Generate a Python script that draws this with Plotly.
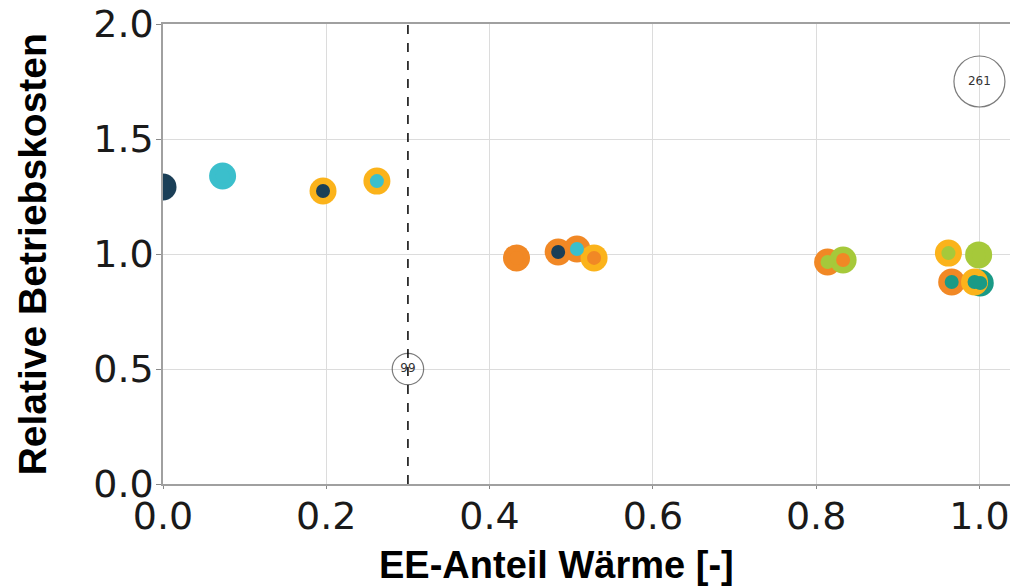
import plotly.graph_objects as go

# Data
ee_share = [0.0, 0.073, 0.196, 0.262, 0.433, 0.484, 0.507, 0.528,
            0.814, 0.833, 0.962, 0.999, 0.966, 1.001, 0.994]
rel_cost = [1.291, 1.339, 1.274, 1.317, 0.983, 1.009, 1.022, 0.983,
            0.965, 0.974, 1.004, 0.996, 0.878, 0.874, 0.878]

NAVY = "#1b3f57"
CYAN = "#3bbfcc"
ORANGE = "#f18825"
YELLOW = "#fbb31b"
LIME = "#a6c93a"
TEAL = "#1a9a86"

outer_colors = [NAVY, CYAN, YELLOW, YELLOW, ORANGE, ORANGE, ORANGE, YELLOW,
                ORANGE, LIME, YELLOW, LIME, ORANGE, TEAL, YELLOW]
inner_colors = [NAVY, CYAN, NAVY, CYAN, ORANGE, NAVY, CYAN, ORANGE,
                LIME, ORANGE, LIME, LIME, TEAL, TEAL, TEAL]

size_x = [1.0, 0.3]
size_y = [1.75, 0.5]
size_values = [261, 99]
size_labels = ["261", "99"]

threshold_x = 0.3

x_ticks = [0.0, 0.2, 0.4, 0.6, 0.8, 1.0]
y_ticks = [0.0, 0.5, 1.0, 1.5, 2.0]

fig = go.Figure()

# dashed threshold line
fig.add_shape(type="line", xref="x", yref="y", x0=threshold_x, x1=threshold_x,
              y0=0, y1=2, line=dict(color="black", width=1.5, dash="dash"),
              layer="above")

fig.add_trace(go.Scatter(
    x=ee_share, y=rel_cost, mode="markers",
    marker=dict(size=27, color=outer_colors, line=dict(width=0)),
    hoverinfo="skip", showlegend=False))
fig.add_trace(go.Scatter(
    x=ee_share, y=rel_cost, mode="markers",
    marker=dict(size=14, color=inner_colors, line=dict(width=0)),
    hoverinfo="skip", showlegend=False))

# size reference circles (area proportional to value)
ref_diam = 51
diams = [ref_diam * (v / size_values[0]) ** 0.5 for v in size_values]
fig.add_trace(go.Scatter(
    x=size_x, y=size_y, mode="markers+text", text=size_labels,
    textposition="middle center",
    textfont=dict(family="DejaVu Sans", size=12, color="#333333"),
    marker=dict(size=diams, color="rgba(0,0,0,0)",
                line=dict(color="#444444", width=1.2)),
    hoverinfo="skip", showlegend=False, cliponaxis=False))

tick_font = dict(family="DejaVu Sans", size=38, color="#1a1a1a")

# page body adds an 8px offset, so the figure is sized/margined to compensate
fig.update_layout(
    width=1010, height=579,
    margin=dict(l=155, r=1, t=16, b=103),
    paper_bgcolor="white", plot_bgcolor="white",
    xaxis=dict(range=[0, 1.046], tickvals=x_ticks, tickformat=".1f",
               showgrid=True, gridcolor="#dcdcdc", gridwidth=1,
               showline=True, mirror=True, linecolor="#a0a0a0", linewidth=1.5,
               ticks="outside", ticklen=3, tickcolor="#888888",
               ticklabelstandoff=-5, ticklabeloverflow="allow",
               tickfont=tick_font, zeroline=False, automargin=False),
    yaxis=dict(range=[0, 2.0], tickvals=y_ticks, tickformat=".1f",
               showgrid=True, gridcolor="#dcdcdc", gridwidth=1,
               showline=True, mirror=True, linecolor="#a0a0a0", linewidth=1.5,
               ticks="outside", ticklen=5, tickcolor="#888888",
               ticklabelstandoff=-5, ticklabeloverflow="allow",
               tickfont=tick_font, zeroline=False, automargin=False),
    annotations=[
        dict(text="<b>EE-Anteil Wärme [-]</b>", xref="paper", yref="paper",
             x=0.461, y=-0.175, xanchor="center", yanchor="middle",
             showarrow=False,
             font=dict(family="Liberation Sans", size=38, color="black")),
        dict(text="<b>Relative Betriebskosten</b>", xref="paper", yref="paper",
             x=-0.153, y=0.5, xanchor="center", yanchor="middle",
             textangle=-90, showarrow=False,
             font=dict(family="Liberation Sans", size=39, color="black")),
    ],
)

fig.write_html("out.html")
